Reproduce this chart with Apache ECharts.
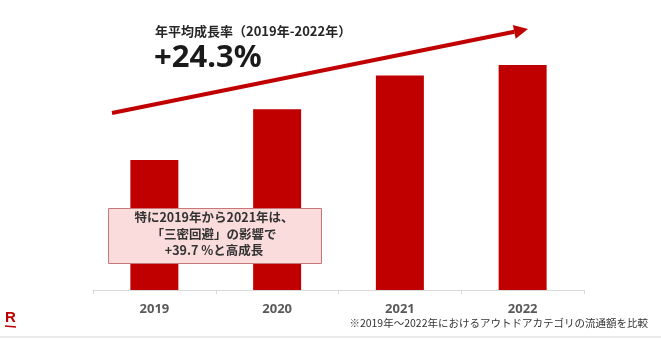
<!DOCTYPE html>
<html>
<head>
<meta charset="utf-8">
<script src="https://cdn.jsdelivr.net/npm/echarts@6/dist/echarts.min.js"></script>
<style>
  html, body { margin: 0; padding: 0; background: #ffffff; }
  #chart { width: 661px; height: 339px; }
</style>
</head>
<body>
<div id="chart"></div>
<script>
// Outdoor category gross merchandise value, indexed to 2019 = 100
const years = ['2019', '2020', '2021', '2022'];
const gmvIndex = [100, 139, 165, 173];

const headline = '年平均成長率（2019年-2022年）';
const cagrText = '+24.3%';
const noteLines = ['特に2019年から2021年は、', '「三密回避」の影響で', '+39.7 %と高成長'];
const footnote = '※2019年～2022年におけるアウトドアカテゴリの流通額を比較';

const RED = '#c00000';
const JP = '"Noto Sans CJK JP", "Noto Sans", sans-serif';

// Trend arrow running across the top of the bars
const arrowFrom = [112, 113];
const arrowTip = [528, 29];
const headLen = 14, headHalf = 7;
const dx = arrowTip[0] - arrowFrom[0], dy = arrowTip[1] - arrowFrom[1];
const len = Math.hypot(dx, dy);
const ux = dx / len, uy = dy / len;
const base = [arrowTip[0] - headLen * ux, arrowTip[1] - headLen * uy];
const nx = -uy, ny = ux;

const chart = echarts.init(document.getElementById('chart'), null, { renderer: 'canvas' });
chart.setOption({
  animation: false,
  backgroundColor: '#ffffff',
  grid: { left: 93, right: 77, top: 30, bottom: 49 },
  xAxis: {
    type: 'category',
    data: years,
    axisLine: { lineStyle: { color: '#d9d9d9', width: 1 } },
    axisTick: { show: true, length: 4, lineStyle: { color: '#d9d9d9' } },
    axisLabel: {
      color: '#595959', fontSize: 13, fontWeight: 'bold',
      fontFamily: '"Noto Sans", sans-serif', margin: 13
    }
  },
  yAxis: {
    type: 'value', min: 0, max: 200, show: false,
    splitLine: { show: false }
  },
  series: [{
    type: 'bar',
    data: gmvIndex,
    barWidth: 48,
    itemStyle: { color: RED },
    z: 2
  }],
  graphic: [
    {
      type: 'text', left: 155, top: 25, z: 10,
      style: { text: headline, font: 'bold 13px ' + JP, fill: '#262626' }
    },
    {
      type: 'text', left: 154, top: 43, z: 10,
      style: { text: cagrText, font: 'bold 31px "Noto Sans", sans-serif', fill: '#1a1a1a' }
    },
    {
      type: 'line', z: 10,
      shape: { x1: arrowFrom[0], y1: arrowFrom[1], x2: base[0], y2: base[1] },
      style: { stroke: RED, lineWidth: 4 }
    },
    {
      type: 'polygon', z: 10,
      shape: {
        points: [
          arrowTip,
          [base[0] + headHalf * nx, base[1] + headHalf * ny],
          [base[0] - headHalf * nx, base[1] - headHalf * ny]
        ]
      },
      style: { fill: RED }
    },
    {
      type: 'rect', z: 20,
      shape: { x: 108.5, y: 208.5, width: 213, height: 55 },
      style: { fill: '#fadcdc', stroke: '#c9787a', lineWidth: 1 }
    },
    {
      type: 'text', z: 21,
      x: 214, y: 234,
      style: {
        text: noteLines.join('\n'),
        font: 'bold 12.5px ' + JP,
        fill: '#333333',
        align: 'center',
        verticalAlign: 'middle',
        lineHeight: 16.5
      }
    },
    {
      type: 'text', z: 10, left: 5, top: 310,
      style: { text: 'R', font: 'bold 15px "Liberation Sans", sans-serif', fill: '#bf0000' }
    },
    {
      type: 'line', z: 10,
      shape: { x1: 5, y1: 326, x2: 16, y2: 327 },
      style: { stroke: '#bf0000', lineWidth: 1.5 }
    },
    {
      type: 'text', z: 10, right: 13, top: 318,
      style: { text: footnote, font: '10.5px ' + JP, fill: '#333333' }
    },
    {
      type: 'line', z: 10,
      shape: { x1: 0, y1: 337, x2: 661, y2: 337 },
      style: { stroke: '#d9d9d9', lineWidth: 1 }
    }
  ]
});
</script>
</body>
</html>
